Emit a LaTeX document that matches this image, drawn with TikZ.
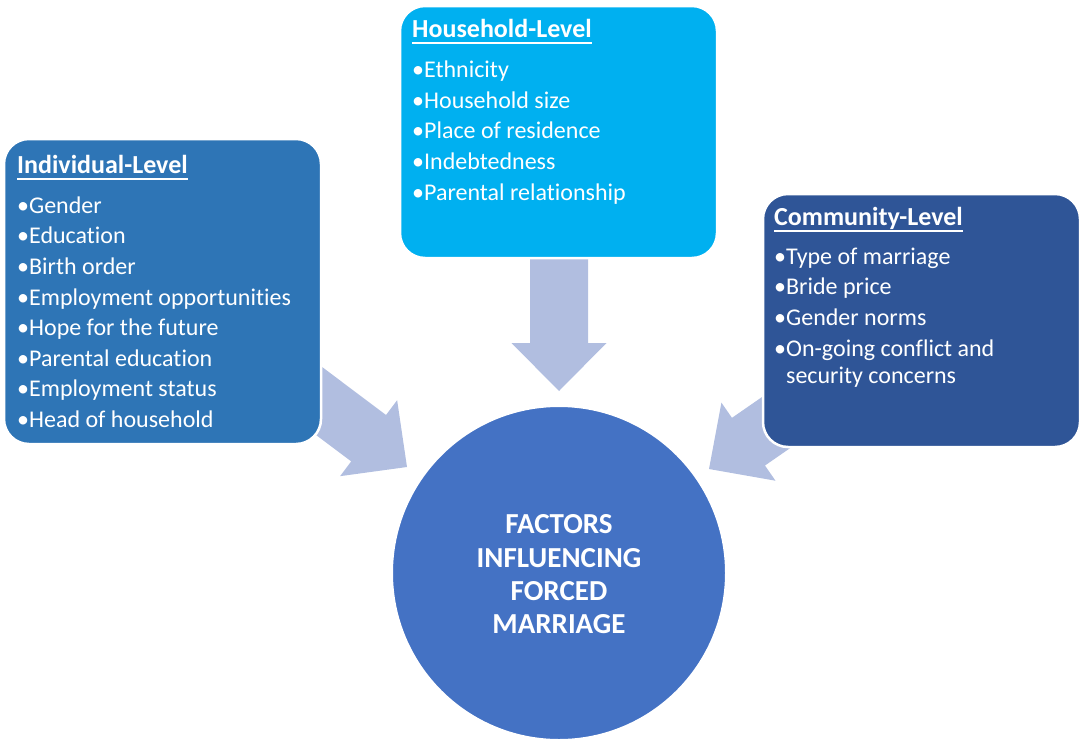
\documentclass[tikz,border=0pt]{standalone}
\usepackage{fontspec}
\setmainfont{Carlito}[Ligatures={NoCommon}]
\definecolor{indblue}{RGB}{46,117,182}
\definecolor{hhblue}{RGB}{0,176,240}
\definecolor{comblue}{RGB}{47,85,151}
\definecolor{coreblue}{RGB}{68,114,196}
\definecolor{arrowfill}{RGB}{177,190,224}
% bold, slightly larger heading with a solid underline
\newcommand\ttl[1]{{\fontsize{26}{27}\selectfont\bfseries\setbox0\hbox{#1}\rlap{\rule[-6.5pt]{\wd0}{1.8pt}}\box0}}
\begin{document}
\begin{tikzpicture}[x=1pt,y=-1pt,
  levelbox/.style={draw=white,line width=2.5pt,rounded corners=25pt},
  listtext/.style={text=white,inner sep=0pt,align=left,anchor=north west,
    font=\fontsize{24}{27}\selectfont},
  coretext/.style={text=white,inner sep=0pt,align=center,
    font=\fontsize{29}{33.3}\selectfont\bfseries},
  blockarrow/.pic={\fill[arrowfill] (-140,29) -- (-48,29) -- (-48,47.5) -- (0,0)
    -- (-48,-47.5) -- (-48,-29) -- (-140,-29) -- cycle;}]
\useasboundingbox (0,0) rectangle (1082,742);

% arrow tips pointing at the central circle
\coordinate (tipL) at (407,467);
\coordinate (tipT) at (559,391);
\coordinate (tipR) at (709,469);
\pic[rotate=-36.9] at (tipL) {blockarrow};
\pic[rotate=-90] at (tipT) {blockarrow};
\pic[rotate=-145.3] at (tipR) {blockarrow};

% the three level boxes
\path[levelbox,fill=indblue] (4,139) rectangle (321,444);
\path[levelbox,fill=hhblue] (400,6) rectangle (717,258);
\path[levelbox,fill=comblue] (763,194) rectangle (1080,447);

\node[listtext] (ind) at (17,151) {\rule{0pt}{22pt}\ttl{Individual-Level}\\[13pt]
  \textbullet Gender\\[3.6pt]
  \textbullet Education\\[3.6pt]
  \textbullet Birth order\\[3.6pt]
  \textbullet Employment opportunities\\[3.6pt]
  \textbullet Hope for the future\\[3.6pt]
  \textbullet Parental education\\[3.6pt]
  \textbullet Employment status\\[3.6pt]
  \textbullet Head of household};

\node[listtext] (hh) at (412,15.5) {\rule{0pt}{22pt}\ttl{Household-Level}\\[13pt]
  \textbullet Ethnicity\\[3.6pt]
  \textbullet Household size\\[3.6pt]
  \textbullet Place of residence\\[3.6pt]
  \textbullet Indebtedness\\[3.6pt]
  \textbullet Parental relationship};

\node[listtext] (com) at (774,203) {\rule{0pt}{22pt}\ttl{Community-Level}\\[12pt]
  \textbullet Type of marriage\\[3.7pt]
  \textbullet Bride price\\[3.7pt]
  \textbullet Gender norms\\[3.7pt]
  \textbullet On-going conflict and\\
  \hphantom{\textbullet}security concerns};

% central circle
\node[circle,fill=coreblue,draw=white,line width=2pt,minimum size=334pt,inner sep=0pt]
  (core) at (559,573) {};
\node[coretext] (coretxt) at (559,574.5) {FACTORS\\INFLUENCING\\FORCED\\MARRIAGE};
\end{tikzpicture}
\end{document}
